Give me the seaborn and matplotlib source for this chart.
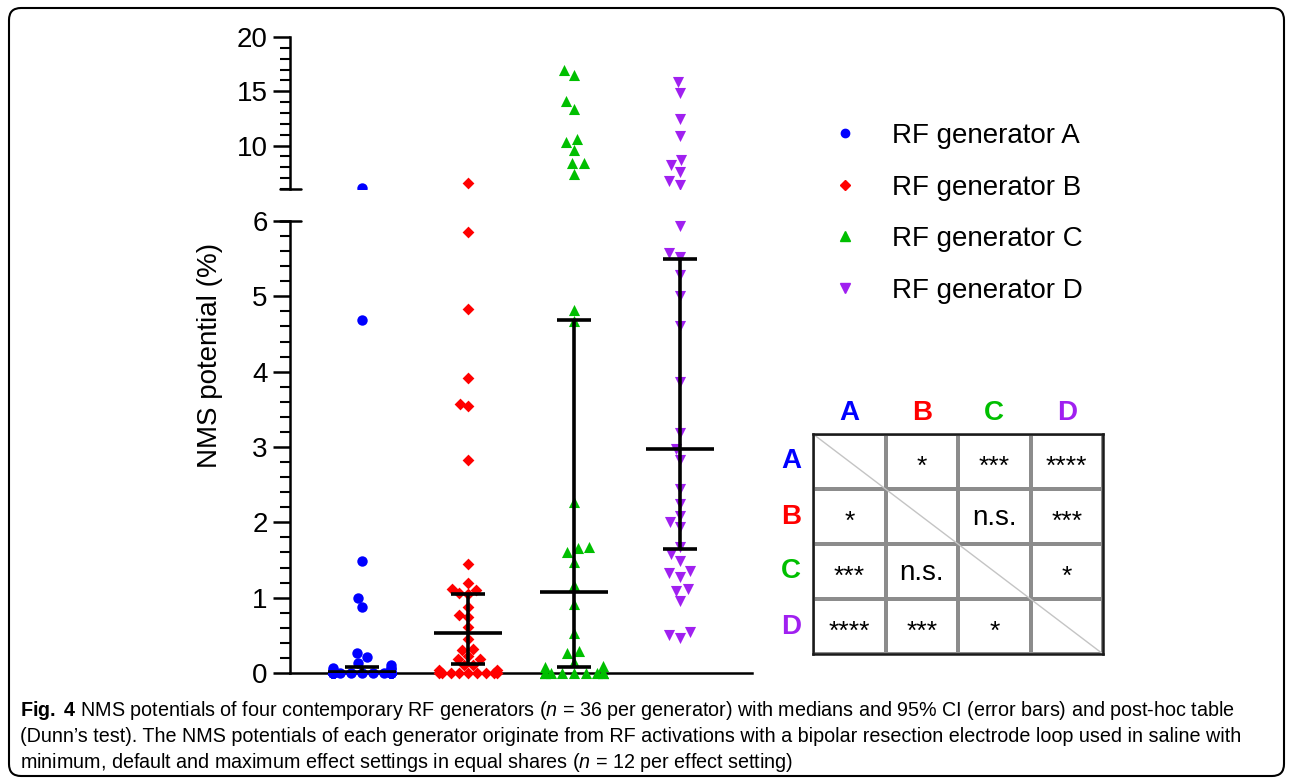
import warnings
import numpy as np
import pandas as pd
import seaborn as sns
import matplotlib.pyplot as plt
from matplotlib import font_manager
from matplotlib.lines import Line2D
from matplotlib.patches import FancyBboxPatch
from matplotlib.colors import ListedColormap
from matplotlib.ticker import MultipleLocator
from matplotlib.transforms import IdentityTransform

warnings.filterwarnings("ignore")

# dados
gens = ["A", "B", "C", "D"]
labels = ["RF generator A", "RF generator B", "RF generator C", "RF generator D"]
cores = ["#0000FF", "#FF0000", "#00BF00", "#A020F0"]
marcadores = ["o", "D", "^", "v"]
tamanhos = [7.5, 6.0, 8.0, 8.0]

nms_a = [6.05, 4.68, 1.49, 1.00, 0.87, 0.27, 0.21, 0.13, 0.10, 0.07, 0.06, 0.05, 0.04] + [0.0] * 23
nms_b = [6.55, 5.86, 4.83, 3.92, 3.57, 3.54, 2.83, 1.45, 1.20, 1.12, 1.10, 1.06, 1.05,
         0.88, 0.77, 0.75, 0.61, 0.45, 0.32, 0.31, 0.23, 0.18, 0.18, 0.11, 0.10, 0.04, 0.04] + [0.0] * 9
nms_c = [17.0, 16.54, 14.07, 13.36, 10.61, 10.31, 9.60, 8.38, 8.38, 7.37,
         4.82, 4.67, 2.27, 1.67, 1.66, 1.60, 1.48, 1.17, 0.91, 0.53, 0.29, 0.27, 0.15, 0.09, 0.08] + [0.0] * 11
nms_d = [15.87, 14.86, 12.42, 10.89, 8.68, 8.23, 7.61, 6.70, 6.39,
         5.94, 5.58, 5.52, 5.28, 5.00, 4.61, 3.86, 3.18, 2.97, 2.83, 2.44, 2.25,
         2.09, 2.01, 1.94, 1.67, 1.58, 1.49, 1.35, 1.33, 1.27, 1.12, 1.09, 0.95, 0.54, 0.50, 0.47]

medianas = [0.015, 0.53, 1.07, 2.97]
ic_baixo = [0.0, 0.115, 0.075, 1.64]
ic_alto = [0.075, 1.05, 4.69, 5.49]

posthoc = [["", "*", "***", "****"],
           ["*", "", "n.s.", "***"],
           ["***", "n.s.", "", "*"],
           ["****", "***", "*", ""]]

cap1 = r"$\mathbf{Fig.\ 4}$ NMS potentials of four contemporary RF generators ($\mathit{n}$ = 36 per generator) with medians and 95% CI (error bars) and post-hoc table"
cap2 = "(Dunn’s test). The NMS potentials of each generator originate from RF activations with a bipolar resection electrode loop used in saline with"
cap3 = r"minimum, default and maximum effect settings in equal shares ($\mathit{n}$ = 12 per effect setting)"

# espaco entre geradores no eixo x (swarm ocupa 0.8 unidades)
espaco = 1.45

dados = pd.DataFrame({
    "gen": np.repeat(gens, [len(nms_a), len(nms_b), len(nms_c), len(nms_d)]),
    "nms": nms_a + nms_b + nms_c + nms_d,
})
dados["pos"] = dados["gen"].map({g: i * espaco for i, g in enumerate(gens)})

#------------------------------------------------------------------------------

sns.set_style("ticks")
plt.rcParams["font.family"] = ["Liberation Sans", "DejaVu Sans"]
for k in ["text.color", "axes.labelcolor", "xtick.color", "ytick.color", "axes.edgecolor"]:
    plt.rcParams[k] = "black"

nomes = {f.name for f in font_manager.fontManager.ttflist}
fonte_cap = "Liberation Sans Narrow" if "Liberation Sans Narrow" in nomes else "Liberation Sans"
tam_cap = 16.5 if fonte_cap == "Liberation Sans Narrow" else 14.2
plt.rcParams["mathtext.fontset"] = "custom"
plt.rcParams["mathtext.rm"] = fonte_cap
plt.rcParams["mathtext.it"] = fonte_cap + ":italic"
plt.rcParams["mathtext.bf"] = fonte_cap + ":bold"

W, H = 1292, 782
fig = plt.figure(figsize=(W / 100, H / 100), dpi=100)

ax_lo = fig.add_axes([290 / W, 1 - 673 / H, 462 / W, 452 / H])
ax_hi = fig.add_axes([290 / W, 1 - 189 / H, 462 / W, 152 / H])

for g, c, m, s in zip(gens, cores, marcadores, tamanhos):
    sub = dados[dados["gen"] == g]
    baixo = sub[sub["nms"] <= 6]
    alto = sub[sub["nms"] > 6]
    sns.swarmplot(data=baixo, x="pos", y="nms", native_scale=True, orient="x", color=c,
                  marker=m, size=s, linewidth=0, ax=ax_lo)
    if len(alto):
        sns.swarmplot(data=alto, x="pos", y="nms", native_scale=True, orient="x", color=c,
                      marker=m, size=s, linewidth=0, ax=ax_hi)

for coll in ax_lo.collections:
    coll.set_clip_on(False)

# medianas e IC 95%
xs = np.arange(4) * espaco
ax_lo.vlines(xs, ic_baixo, ic_alto, color="black", lw=2.6, zorder=5)
ax_lo.hlines(medianas, xs - 0.325 * espaco, xs + 0.325 * espaco, color="black", lw=2.6, zorder=5)
ax_lo.hlines(ic_baixo, xs - 0.16 * espaco, xs + 0.16 * espaco, color="black", lw=2.6, zorder=5)
ax_lo.hlines(ic_alto, xs - 0.16 * espaco, xs + 0.16 * espaco, color="black", lw=2.6, zorder=5)

for ax in (ax_lo, ax_hi):
    ax.set_xlim(-0.68 * espaco, 3.68 * espaco)
    ax.set_xlabel("")
    ax.set_ylabel("")
    ax.set_xticks([])
    ax.spines["top"].set_visible(False)
    ax.spines["right"].set_visible(False)
    ax.spines["left"].set_linewidth(1.8)
    ax.spines["bottom"].set_linewidth(1.8)
    ax.tick_params(axis="y", which="major", labelsize=20, length=12, width=1.8, pad=4)
    ax.tick_params(axis="y", which="minor", length=7, width=1.5)
    ax.patch.set_alpha(0)

ax_lo.set_ylim(0, 6)
ax_lo.set_yticks(range(7))
ax_lo.yaxis.set_minor_locator(MultipleLocator(0.2))
ax_hi.set_ylim(6, 20)
ax_hi.set_yticks([10, 15, 20])
ax_hi.yaxis.set_minor_locator(MultipleLocator(1))
ax_hi.spines["bottom"].set_visible(False)

# marcas da quebra do eixo
ax_hi.plot([-0.022, 0.024], [6, 6], color="black", lw=1.8, clip_on=False,
           transform=ax_hi.get_yaxis_transform())
ax_lo.plot([-0.022, 0.024], [6, 6], color="black", lw=1.8, clip_on=False,
           transform=ax_lo.get_yaxis_transform())

fig.text(210 / W, 1 - 355 / H, "NMS potential (%)", rotation=90, fontsize=20,
         ha="center", va="center")

handles = [Line2D([], [], ls="", marker=m, color=c, markersize=ms)
           for c, m, ms in zip(cores, marcadores, [6, 5, 6.5, 6.5])]
fig.legend(handles, labels, loc="upper left", bbox_to_anchor=(831 / W, 1 - 123 / H),
           frameon=False, fontsize=20, handlelength=1.0, handletextpad=1.19,
           labelspacing=0.92, borderpad=0, borderaxespad=0)

#------------------------------------------------------------------------------

# tabela post-hoc (Dunn)
ax_t = fig.add_axes([813 / W, 1 - 654 / H, 290 / W, 220 / H])
sns.heatmap(np.zeros((4, 4)), cmap=ListedColormap(["white"]), cbar=False,
            linewidths=1.5, linecolor="#8c8c8c", xticklabels=gens, yticklabels=gens, ax=ax_t)
ax_t.plot([0, 4], [0, 4], color="#c4c4c4", lw=1)
for sp in ax_t.spines.values():
    sp.set_visible(True)
    sp.set_color("#1a1a1a")
    sp.set_linewidth(1.8)
ax_t.xaxis.tick_top()
ax_t.tick_params(axis="x", length=0, pad=5.4, labelsize=20)
ax_t.tick_params(axis="y", length=0, pad=8.6, labelsize=20)
ax_t.set_yticklabels(gens, rotation=0)
for lab, c in zip(ax_t.get_xticklabels(), cores):
    lab.set_color(c)
    lab.set_fontweight("bold")
for lab, c in zip(ax_t.get_yticklabels(), cores):
    lab.set_color(c)
    lab.set_fontweight("bold")
for i in range(4):
    for j in range(4):
        txt = posthoc[i][j]
        if not txt:
            continue
        if txt == "n.s.":
            ax_t.text(j + 0.5, i + 0.53, txt, ha="center", va="center", fontsize=20)
        else:
            ax_t.text(j + 0.5, i + 0.6, txt, ha="center", va="center", fontsize=19)

#------------------------------------------------------------------------------

for y, linha in zip([711, 737, 762], [cap1, cap2, cap3]):
    fig.text(20 / W, 1 - y / H, linha, fontsize=tam_cap, family=fonte_cap,
             ha="left", va="center")

moldura = FancyBboxPatch((9, H - 776), 1275, 768, boxstyle="round,pad=0,rounding_size=12",
                         transform=IdentityTransform(), fill=False, ec="black", lw=1.5)
fig.add_artist(moldura)

fig.savefig("out.png", dpi=100)
